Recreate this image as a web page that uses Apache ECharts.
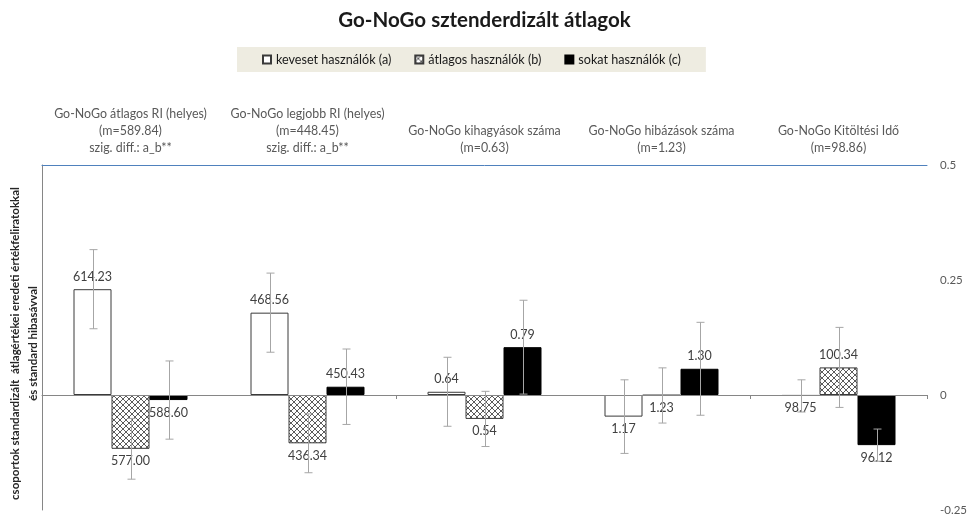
<!DOCTYPE html>
<html>
<head>
<meta charset="utf-8">
<script src="https://cdn.jsdelivr.net/npm/echarts@6/dist/echarts.min.js"></script>
<style>
  html, body { margin: 0; padding: 0; background: #ffffff; }
  #chart { width: 969px; height: 518px; }
</style>
</head>
<body>
<div id="chart"></div>
<script>
// Go-NoGo measures, group means (original units) and standardized group means
const categoryNames = [
  'Go-NoGo átlagos RI (helyes)',
  'Go-NoGo legjobb RI (helyes)',
  'Go-NoGo kihagyások száma',
  'Go-NoGo hibázások száma',
  'Go-NoGo Kitöltési Idő'
];
const categoryMeans = ['589.84', '448.45', '0.63', '1.23', '98.86'];
const categoryNotes = ['szig. diff.: a_b**', 'szig. diff.: a_b**', '', '', ''];

const seriesNames = ['keveset használók (a)', 'átlagos használók (b)', 'sokat használók (c)'];

// standardized group means (bar heights)
const stdA = [0.230, 0.179, 0.007, -0.047, -0.002];
const stdB = [-0.117, -0.105, -0.052, -0.001, 0.060];
const stdC = [-0.011, 0.018, 0.104, 0.057, -0.109];

// original group means (value labels)
const rawA = [614.23, 468.56, 0.64, 1.17, 98.75];
const rawB = [577.00, 436.34, 0.54, 1.23, 100.34];
const rawC = [588.60, 450.43, 0.79, 1.30, 96.12];

// standard errors on the standardized scale
const seA = [0.086, 0.086, 0.075, 0.080, 0.035];
const seB = [0.066, 0.064, 0.060, 0.060, 0.087];
const seC = [0.085, 0.082, 0.102, 0.101, 0.035];

const yTicks = [-0.25, 0, 0.25, 0.5];

const FONT = 'Lato, "Open Sans", sans-serif';
const BAR_W = 38;

// cross-hatch tile for the middle group
function hatchTile() {
  const c = document.createElement('canvas');
  c.width = 6; c.height = 6;
  const g = c.getContext('2d');
  g.fillStyle = '#ffffff';
  g.fillRect(0, 0, 6, 6);
  g.strokeStyle = '#4a4a4a';
  g.lineWidth = 0.9;
  g.beginPath();
  g.moveTo(0, 0); g.lineTo(6, 6);
  g.moveTo(6, 0); g.lineTo(0, 6);
  g.stroke();
  return c;
}
const hatch = { image: hatchTile(), repeat: 'repeat' };

const groups = [
  { name: seriesNames[0], std: stdA, raw: rawA, se: seA,
    itemStyle: { color: '#ffffff', borderColor: '#3a3a3a', borderWidth: 1 } },
  { name: seriesNames[1], std: stdB, raw: rawB, se: seB,
    itemStyle: { color: hatch, borderColor: '#3a3a3a', borderWidth: 1 } },
  { name: seriesNames[2], std: stdC, raw: rawC, se: seC,
    itemStyle: { color: '#000000', borderColor: '#000000', borderWidth: 1 } }
];

const axisLabels = categoryNames.map((n, i) =>
  [n, '(m=' + categoryMeans[i] + ')', categoryNotes[i]].filter(s => s).join('\n'));

const barSeries = groups.map(g => ({
  name: g.name,
  type: 'bar',
  xAxisIndex: 1,
  yAxisIndex: 0,
  barWidth: BAR_W,
  barGap: '0%',
  z: 2,
  itemStyle: g.itemStyle,
  data: g.std.map(v => ({
    value: v,
    label: { position: v >= 0 ? 'top' : 'bottom' }
  })),
  label: {
    show: true,
    distance: 6,
    color: '#404040',
    fontSize: 12.5,
    fontFamily: FONT,
    formatter: p => g.raw[p.dataIndex].toFixed(2)
  }
}));

const errorSeries = groups.map((g, gi) => ({
  name: 'hibasáv ' + gi,
  type: 'custom',
  xAxisIndex: 1,
  yAxisIndex: 0,
  z: 4,
  silent: true,
  encode: { x: 0, y: 1 },
  data: g.std.map((v, i) => [i, v, g.se[i]]),
  renderItem: (params, api) => {
    const i = api.value(0), v = api.value(1), e = api.value(2);
    const hi = api.coord([i, v + e]);
    const lo = api.coord([i, v - e]);
    const x = Math.round(hi[0] + (gi - 1) * BAR_W) + 0.5;
    const cap = 4;
    const st = { stroke: '#a6a6a6', lineWidth: 1 };
    return {
      type: 'group',
      children: [
        { type: 'line', shape: { x1: x, y1: hi[1], x2: x, y2: lo[1] }, style: st },
        { type: 'line', shape: { x1: x - cap, y1: hi[1], x2: x + cap, y2: hi[1] }, style: st },
        { type: 'line', shape: { x1: x - cap, y1: lo[1], x2: x + cap, y2: lo[1] }, style: st }
      ]
    };
  }
}));

const chart = echarts.init(document.getElementById('chart'), null, { renderer: 'canvas' });
chart.setOption({
  animation: false,
  backgroundColor: '#ffffff',
  textStyle: { fontFamily: FONT },
  title: {
    text: 'Go-NoGo sztenderdizált átlagok',
    left: 'center',
    top: 5,
    textStyle: { fontFamily: FONT, fontSize: 20.5, fontWeight: 'bold', color: '#1a1a1a' }
  },
  legend: {
    data: seriesNames,
    left: 237,
    top: 47,
    backgroundColor: '#eeece1',
    padding: [6, 25, 6, 25],
    itemGap: 23,
    itemWidth: 8,
    itemHeight: 8,
    icon: 'rect',
    textStyle: { fontFamily: FONT, fontSize: 12.6, color: '#1a1a1a' }
  },
  grid: { left: 42, right: 42, top: 165, bottom: 8, outerBoundsMode: 'none', containLabel: false },
  xAxis: [
    {
      type: 'category',
      position: 'top',
      data: axisLabels,
      axisLine: { onZero: false, lineStyle: { color: '#4f81bd', width: 1 } },
      axisTick: { show: false },
      axisLabel: {
        interval: 0, margin: 9, color: '#595959', fontSize: 12.4,
        lineHeight: 17, fontFamily: FONT
      },
      splitLine: { show: false }
    },
    {
      type: 'category',
      position: 'bottom',
      data: axisLabels,
      z: 3,
      axisLine: { onZero: true, onZeroAxisIndex: 0, lineStyle: { color: '#868686', width: 1 } },
      axisTick: { show: true, length: 4, lineStyle: { color: '#868686' } },
      axisLabel: { show: false },
      splitLine: { show: false }
    }
  ],
  yAxis: [
    {
      type: 'value',
      position: 'right',
      min: yTicks[0],
      max: yTicks[yTicks.length - 1],
      interval: yTicks[1] - yTicks[0],
      axisLine: { show: false },
      axisTick: { show: false },
      splitLine: { show: false },
      axisLabel: { margin: 13, color: '#595959', fontSize: 11.5, fontFamily: FONT }
    },
    {
      type: 'value',
      position: 'left',
      min: yTicks[0],
      max: yTicks[yTicks.length - 1],
      interval: yTicks[1] - yTicks[0],
      axisLine: { show: true, onZero: false, lineStyle: { color: '#868686', width: 1 } },
      axisTick: { show: false },
      splitLine: { show: false },
      axisLabel: { show: false },
      name: 'csoportok standardizált  átlagértékei eredeti értékfeliratokkal\nés standard hibasávval',
      nameLocation: 'middle',
      nameRotate: 90,
      nameGap: 0,
      nameTextStyle: {
        fontFamily: FONT, fontSize: 11.5, fontWeight: 'bold', color: '#262626',
        lineHeight: 18, padding: [0, 12, 0, 0]
      }
    }
  ],
  series: barSeries.concat(errorSeries)
});
</script>
</body>
</html>
